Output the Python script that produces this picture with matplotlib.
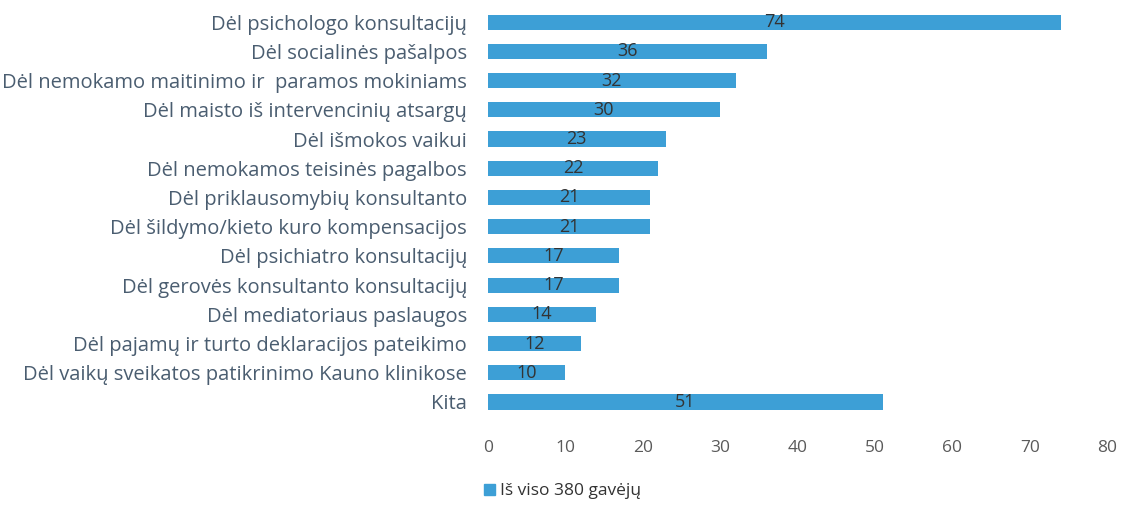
import matplotlib
matplotlib.use('Agg')
import matplotlib.pyplot as plt
from matplotlib.patches import Patch

categories = [
    "Dėl psichologo konsultacijų",
    "Dėl socialinės pašalpos",
    "Dėl nemokamo maitinimo ir  paramos mokiniams",
    "Dėl maisto iš intervencinių atsargų",
    "Dėl išmokos vaikui",
    "Dėl nemokamos teisinės pagalbos",
    "Dėl priklausomybių konsultanto",
    "Dėl šildymo/kieto kuro kompensacijos",
    "Dėl psichiatro konsultacijų",
    "Dėl gerovės konsultanto konsultacijų",
    "Dėl mediatoriaus paslaugos",
    "Dėl pajamų ir turto deklaracijos pateikimo",
    "Dėl vaikų sveikatos patikrinimo Kauno klinikose",
    "Kita",
]
values = [74, 36, 32, 30, 23, 22, 21, 21, 17, 17, 14, 12, 10, 51]
legend_label = "Iš viso 380 gavėjų"
xticks = [0, 10, 20, 30, 40, 50, 60, 70, 80]

plt.rcParams['font.family'] = ['Open Sans', 'DejaVu Sans']

bar_color = "#3d9fd6"
label_color = "#4a5d70"
tick_color = "#5a5a5a"

fig = plt.figure(figsize=(11.24, 5.08), dpi=100)
ax = fig.add_axes([0.434, 0.18, 0.551, 0.805])

ypos = list(range(len(categories)))
ax.barh(ypos, values, height=0.52, color=bar_color, edgecolor="none")
for y, v in zip(ypos, values):
    ax.text(v / 2, y, str(v), ha="center", va="center", fontsize=13, color="#333333")

ax.set_yticks(ypos)
ax.set_yticklabels(categories, fontsize=14.5, color=label_color)
ax.set_ylim(len(categories) - 0.5, -0.5)
ax.set_xlim(0, 80)
ax.set_xticks(xticks)
ax.tick_params(axis="x", labelsize=12.5, colors=tick_color, length=0, pad=17)
ax.tick_params(axis="y", length=0, pad=15)
for s in ax.spines.values():
    s.set_visible(False)

fig.legend(handles=[Patch(color=bar_color, label=legend_label)],
           loc="lower left", bbox_to_anchor=(0.417, -0.014), frameon=False,
           fontsize=12.5, handlelength=0.6, handleheight=0.6, handletextpad=0.3,
           labelcolor="#333333")

plt.savefig("out.png", dpi=100)
plt.close()
